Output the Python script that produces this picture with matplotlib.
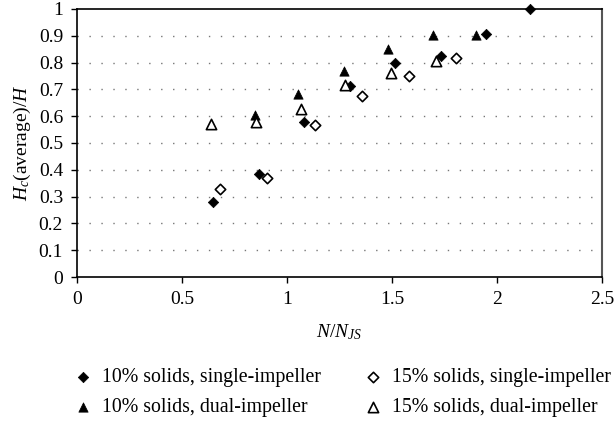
import matplotlib
matplotlib.use("Agg")
import matplotlib.pyplot as plt

plt.rcParams['font.family'] = ['Liberation Serif', 'DejaVu Serif']
plt.rcParams['mathtext.fontset'] = 'custom'
plt.rcParams['mathtext.rm'] = 'Liberation Serif'
plt.rcParams['mathtext.it'] = 'Liberation Serif:italic'

# 10% solids, single-impeller
x_10s = [0.65, 0.865, 1.082, 1.30, 1.513, 1.733, 1.948, 2.16]
y_10s = [0.28, 0.385, 0.577, 0.713, 0.80, 0.826, 0.907, 1.0]
# 10% solids, dual-impeller
x_10d = [0.846, 1.055, 1.271, 1.482, 1.695, 1.899]
y_10d = [0.604, 0.684, 0.767, 0.849, 0.903, 0.903]
# 15% solids, single-impeller
x_15s = [0.683, 0.906, 1.132, 1.358, 1.58, 1.806]
y_15s = [0.327, 0.368, 0.566, 0.675, 0.749, 0.816]
# 15% solids, dual-impeller
x_15d = [0.636, 0.854, 1.069, 1.276, 1.494, 1.711]
y_15d = [0.571, 0.577, 0.626, 0.715, 0.762, 0.806]

xticks = [0, 0.5, 1, 1.5, 2, 2.5]
xticklabels = ['0', '0.5', '1', '1.5', '2', '2.5']
yticks = [0, 0.1, 0.2, 0.3, 0.4, 0.5, 0.6, 0.7, 0.8, 0.9, 1]
yticklabels = ['0', '0.1', '0.2', '0.3', '0.4', '0.5', '0.6', '0.7', '0.8', '0.9', '1']

fig = plt.figure(figsize=(6.16, 4.23), dpi=100)
ax = fig.add_axes([0.125, 0.345, 0.852, 0.634])

# dotted horizontal grid
for yv in yticks[1:-1]:
    ax.axhline(yv, color='#777777', lw=1.0, ls=(0, (1, 7.6)), zorder=0)

ax.scatter(x_10s, y_10s, marker='D', s=28, c='black', edgecolors='black',
           linewidths=0.5, label='10% solids, single-impeller', clip_on=False, zorder=3)
ax.scatter(x_10d, y_10d, marker='^', s=45, c='black', edgecolors='black',
           linewidths=0.5, label='10% solids, dual-impeller', clip_on=False, zorder=3)
ax.scatter(x_15s, y_15s, marker='D', s=28, c='white', edgecolors='black',
           linewidths=1.2, label='15% solids, single-impeller', clip_on=False, zorder=3)
ax.scatter(x_15d, y_15d, marker='^', s=55, c='white', edgecolors='black',
           linewidths=1.2, label='15% solids, dual-impeller', clip_on=False, zorder=3)

ax.set_xlim(0, 2.5)
ax.set_ylim(0, 1)
ax.set_xticks(xticks)
ax.set_xticklabels(xticklabels)
ax.set_yticks(yticks)
ax.set_yticklabels(yticklabels)
ax.tick_params(axis='both', direction='out', length=4, width=1, labelsize=14, pad=6)

for side in ['left', 'bottom', 'top']:
    ax.spines[side].set_color('black')
    ax.spines[side].set_linewidth(1.2)
ax.spines['right'].set_color('#555555')
ax.spines['right'].set_linewidth(1.5)

ax.set_xlabel(r'$N/N_{JS}$', fontsize=14, labelpad=10)
ax.set_ylabel(r'$H_c$(average)/$H$', fontsize=14, labelpad=4)

fig.legend(loc='upper left', bbox_to_anchor=(0.099, 0.154), ncol=2, frameon=False,
           fontsize=14.3, handletextpad=0.36, columnspacing=2.0, labelspacing=0.57,
           handlelength=1.2, borderpad=0)

fig.savefig('out.png', dpi=100)
